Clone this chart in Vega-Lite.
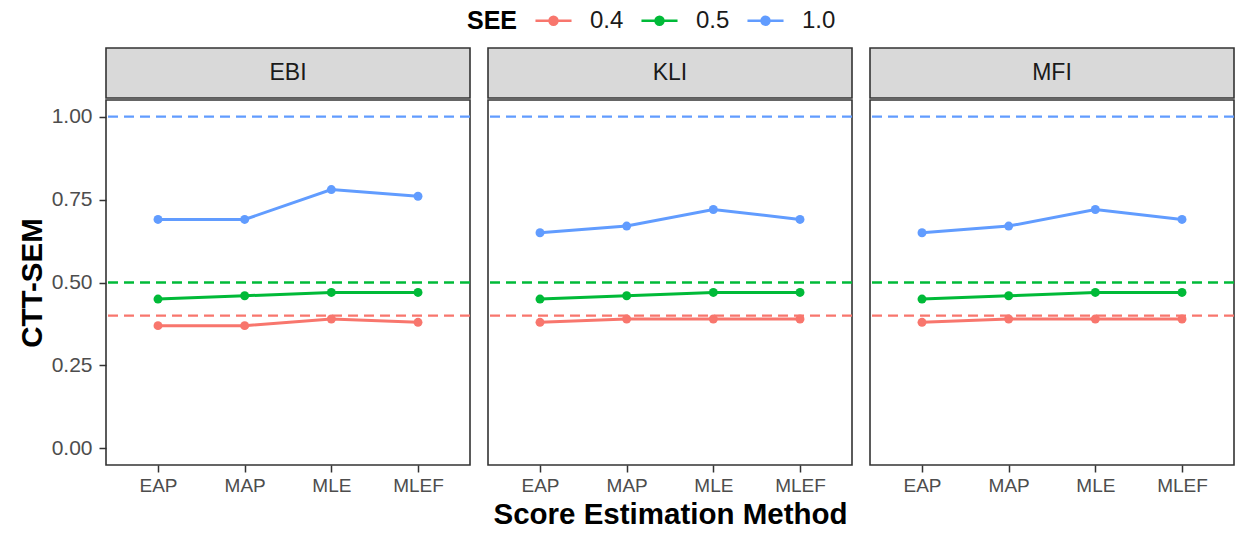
{
  "$schema": "https://vega.github.io/schema/vega-lite/v6.json",
  "padding": {"left": 16, "top": 1, "right": 0, "bottom": 0},
  "background": "white",
  "datasets": {
    "main": [
      {"panel": "EBI", "method": "EAP", "SEE": "0.4", "value": 0.37},
      {"panel": "EBI", "method": "MAP", "SEE": "0.4", "value": 0.37},
      {"panel": "EBI", "method": "MLE", "SEE": "0.4", "value": 0.39},
      {"panel": "EBI", "method": "MLEF", "SEE": "0.4", "value": 0.38},
      {"panel": "EBI", "method": "EAP", "SEE": "0.5", "value": 0.45},
      {"panel": "EBI", "method": "MAP", "SEE": "0.5", "value": 0.46},
      {"panel": "EBI", "method": "MLE", "SEE": "0.5", "value": 0.47},
      {"panel": "EBI", "method": "MLEF", "SEE": "0.5", "value": 0.47},
      {"panel": "EBI", "method": "EAP", "SEE": "1.0", "value": 0.69},
      {"panel": "EBI", "method": "MAP", "SEE": "1.0", "value": 0.69},
      {"panel": "EBI", "method": "MLE", "SEE": "1.0", "value": 0.78},
      {"panel": "EBI", "method": "MLEF", "SEE": "1.0", "value": 0.76},
      {"panel": "KLI", "method": "EAP", "SEE": "0.4", "value": 0.38},
      {"panel": "KLI", "method": "MAP", "SEE": "0.4", "value": 0.39},
      {"panel": "KLI", "method": "MLE", "SEE": "0.4", "value": 0.39},
      {"panel": "KLI", "method": "MLEF", "SEE": "0.4", "value": 0.39},
      {"panel": "KLI", "method": "EAP", "SEE": "0.5", "value": 0.45},
      {"panel": "KLI", "method": "MAP", "SEE": "0.5", "value": 0.46},
      {"panel": "KLI", "method": "MLE", "SEE": "0.5", "value": 0.47},
      {"panel": "KLI", "method": "MLEF", "SEE": "0.5", "value": 0.47},
      {"panel": "KLI", "method": "EAP", "SEE": "1.0", "value": 0.65},
      {"panel": "KLI", "method": "MAP", "SEE": "1.0", "value": 0.67},
      {"panel": "KLI", "method": "MLE", "SEE": "1.0", "value": 0.72},
      {"panel": "KLI", "method": "MLEF", "SEE": "1.0", "value": 0.69},
      {"panel": "MFI", "method": "EAP", "SEE": "0.4", "value": 0.38},
      {"panel": "MFI", "method": "MAP", "SEE": "0.4", "value": 0.39},
      {"panel": "MFI", "method": "MLE", "SEE": "0.4", "value": 0.39},
      {"panel": "MFI", "method": "MLEF", "SEE": "0.4", "value": 0.39},
      {"panel": "MFI", "method": "EAP", "SEE": "0.5", "value": 0.45},
      {"panel": "MFI", "method": "MAP", "SEE": "0.5", "value": 0.46},
      {"panel": "MFI", "method": "MLE", "SEE": "0.5", "value": 0.47},
      {"panel": "MFI", "method": "MLEF", "SEE": "0.5", "value": 0.47},
      {"panel": "MFI", "method": "EAP", "SEE": "1.0", "value": 0.65},
      {"panel": "MFI", "method": "MAP", "SEE": "1.0", "value": 0.67},
      {"panel": "MFI", "method": "MLE", "SEE": "1.0", "value": 0.72},
      {"panel": "MFI", "method": "MLEF", "SEE": "1.0", "value": 0.69}
    ],
    "refs": [
      {"SEE": "0.4", "ref": 0.4},
      {"SEE": "0.5", "ref": 0.5},
      {"SEE": "1.0", "ref": 1.0}
    ]
  },
  "config": {
    "font": "Liberation Sans",
    "view": {"stroke": "#333333", "strokeWidth": 1.6},
    "axis": {"grid": false, "domain": false, "tickColor": "#333333", "tickSize": 7, "tickWidth": 1.5, "labelColor": "#4d4d4d", "labelFontSize": 19, "labelPadding": 4, "titleFontSize": 29.5, "titleFontWeight": "bold", "titleColor": "#000000"},
    "concat": {"spacing": 14}
  },
  "hconcat": [
    {
      "spacing": 0,
      "vconcat": [
        {"width": 364, "height": 50, "data": {"values": [{"p": "EBI"}]}, "mark": {"type": "text", "fontSize": 23, "color": "#1a1a1a"}, "encoding": {"text": {"field": "p"}}, "view": {"fill": "#d9d9d9", "stroke": "#333333", "strokeWidth": 1.6}},
        {
          "width": 364, "height": 365,
          "layer": [
            {"data": {"name": "refs"}, "mark": {"type": "rule", "strokeDash": [10, 6], "strokeWidth": 2.3}, "encoding": {"y": {"field": "ref", "type": "quantitative", "scale": {"domain": [-0.05, 1.05], "nice": false, "zero": false}, "axis": {"title": "CTT-SEM", "values": [0, 0.25, 0.5, 0.75, 1], "format": ".2f", "titlePadding": 4, "labelFontSize": 21, "labelPadding": 7}}, "color": {"field": "SEE", "type": "nominal"}}},
            {"data": {"name": "main"}, "transform": [{"filter": "datum.panel == 'EBI'"}], "mark": {"type": "line", "strokeWidth": 3}, "encoding": {"x": {"field": "method", "type": "ordinal", "scale": {"type": "point", "padding": 0.6}, "axis": {"title": null, "labelAngle": 0}}, "y": {"field": "value", "type": "quantitative"}, "color": {"field": "SEE", "type": "nominal"}}},
            {"data": {"name": "main"}, "transform": [{"filter": "datum.panel == 'EBI'"}], "mark": {"type": "point", "filled": true, "size": 80, "opacity": 1}, "encoding": {"x": {"field": "method", "type": "ordinal"}, "y": {"field": "value", "type": "quantitative"}, "color": {"field": "SEE", "type": "nominal", "scale": {"domain": ["0.4", "0.5", "1.0"], "range": ["#F8766D", "#00BA38", "#619CFF"]}, "legend": {"orient": "none", "legendX": 361, "legendY": -47, "direction": "horizontal", "title": "SEE", "titleOrient": "left", "titleAnchor": "middle", "titleBaseline": "line-top", "titleLineHeight": 10, "titleFontSize": 25, "titleFontWeight": "bold", "titleColor": "#000000", "titlePadding": 16, "labelFontSize": 24, "labelColor": "#1a1a1a", "symbolType": "M-1,0L1,0M-0.22,0A0.22,0.22 0 1,0 0.22,0A0.22,0.22 0 1,0 -0.22,0Z", "symbolSize": 1300, "symbolStrokeWidth": 2.5, "columnPadding": 12, "labelOffset": 17}}}}
          ]
        }
      ]
    },
    {
      "spacing": 0,
      "vconcat": [
        {"width": 364, "height": 50, "data": {"values": [{"p": "KLI"}]}, "mark": {"type": "text", "fontSize": 23, "color": "#1a1a1a"}, "encoding": {"text": {"field": "p"}}, "view": {"fill": "#d9d9d9", "stroke": "#333333", "strokeWidth": 1.6}},
        {
          "width": 364, "height": 365,
          "layer": [
            {"data": {"name": "refs"}, "mark": {"type": "rule", "strokeDash": [10, 6], "strokeWidth": 2.3}, "encoding": {"y": {"field": "ref", "type": "quantitative", "scale": {"domain": [-0.05, 1.05], "nice": false, "zero": false}, "axis": null}, "color": {"field": "SEE", "type": "nominal"}}},
            {"data": {"name": "main"}, "transform": [{"filter": "datum.panel == 'KLI'"}], "mark": {"type": "line", "strokeWidth": 3}, "encoding": {"x": {"field": "method", "type": "ordinal", "scale": {"type": "point", "padding": 0.6}, "axis": {"title": "Score Estimation Method", "labelAngle": 0, "titlePadding": 5}}, "y": {"field": "value", "type": "quantitative"}, "color": {"field": "SEE", "type": "nominal"}}},
            {"data": {"name": "main"}, "transform": [{"filter": "datum.panel == 'KLI'"}], "mark": {"type": "point", "filled": true, "size": 80, "opacity": 1}, "encoding": {"x": {"field": "method", "type": "ordinal"}, "y": {"field": "value", "type": "quantitative"}, "color": {"field": "SEE", "type": "nominal"}}}
          ]
        }
      ]
    },
    {
      "spacing": 0,
      "vconcat": [
        {"width": 364, "height": 50, "data": {"values": [{"p": "MFI"}]}, "mark": {"type": "text", "fontSize": 23, "color": "#1a1a1a"}, "encoding": {"text": {"field": "p"}}, "view": {"fill": "#d9d9d9", "stroke": "#333333", "strokeWidth": 1.6}},
        {
          "width": 364, "height": 365,
          "layer": [
            {"data": {"name": "refs"}, "mark": {"type": "rule", "strokeDash": [10, 6], "strokeWidth": 2.3}, "encoding": {"y": {"field": "ref", "type": "quantitative", "scale": {"domain": [-0.05, 1.05], "nice": false, "zero": false}, "axis": null}, "color": {"field": "SEE", "type": "nominal"}}},
            {"data": {"name": "main"}, "transform": [{"filter": "datum.panel == 'MFI'"}], "mark": {"type": "line", "strokeWidth": 3}, "encoding": {"x": {"field": "method", "type": "ordinal", "scale": {"type": "point", "padding": 0.6}, "axis": {"title": null, "labelAngle": 0}}, "y": {"field": "value", "type": "quantitative"}, "color": {"field": "SEE", "type": "nominal"}}},
            {"data": {"name": "main"}, "transform": [{"filter": "datum.panel == 'MFI'"}], "mark": {"type": "point", "filled": true, "size": 80, "opacity": 1}, "encoding": {"x": {"field": "method", "type": "ordinal"}, "y": {"field": "value", "type": "quantitative"}, "color": {"field": "SEE", "type": "nominal"}}}
          ]
        }
      ]
    }
  ]
}
